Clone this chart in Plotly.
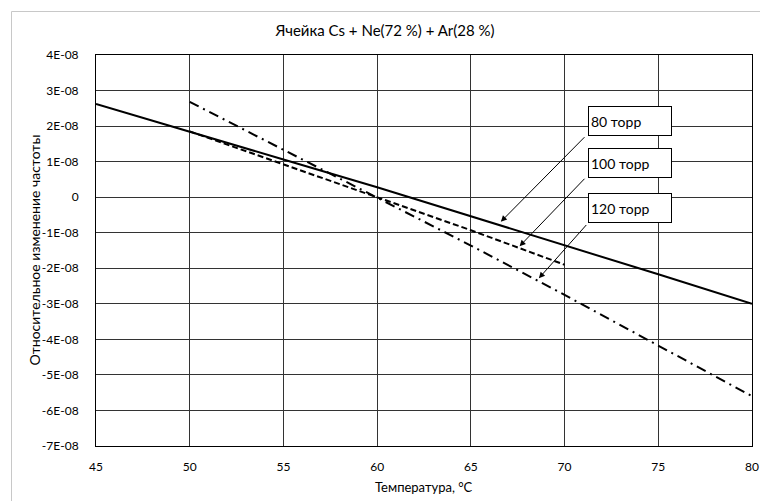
import plotly.graph_objects as go

# Data
temp_80 = [45, 50, 55, 60, 65, 70, 75, 80]
freq_80 = [2.62e-8, 1.85e-8, 1.06e-8, 0.28e-8, -0.53e-8, -1.35e-8, -2.17e-8, -3.0e-8]

temp_100 = [50, 55, 60, 65, 70]
freq_100 = [1.85e-8, 0.93e-8, 0.0, -0.93e-8, -1.9e-8]

temp_120 = [50, 55, 60, 65, 70, 75, 80]
freq_120 = [2.68e-8, 1.34e-8, 0.0, -1.36e-8, -2.75e-8, -4.17e-8, -5.6e-8]

y_ticks = [4e-8, 3e-8, 2e-8, 1e-8, 0, -1e-8, -2e-8, -3e-8, -4e-8, -5e-8, -6e-8, -7e-8]
y_tick_labels = ["4E-08", "3E-08", "2E-08", "1E-08", "0", "-1E-08", "-2E-08", "-3E-08",
                 "-4E-08", "-5E-08", "-6E-08", "-7E-08"]
x_ticks = [45, 50, 55, 60, 65, 70, 75, 80]

labels = ["80 торр", "100 торр", "120 торр"]
label_pos = [(73.5, 2.13e-8), (73.5, 0.96e-8), (73.5, -0.31e-8)]
arrow_tail = [(71.14, 1.73e-8), (71.14, 0.56e-8), (71.23, -0.74e-8)]
arrow_head = [(66.6, -0.69e-8), (67.6, -1.38e-8), (68.63, -2.28e-8)]

FONT = "Lato, 'Open Sans', sans-serif"
L, R, T, B = 96, 8, 55, 55
PW, PH = 760 - L - R, 501 - T - B

fig = go.Figure()
fig.add_trace(go.Scatter(x=temp_80, y=freq_80, mode="lines", name=labels[0],
                         line=dict(color="black", width=2)))
fig.add_trace(go.Scatter(x=temp_100, y=freq_100, mode="lines", name=labels[1],
                         line=dict(color="black", width=2, dash="6px,3px")))
fig.add_trace(go.Scatter(x=temp_120, y=freq_120, mode="lines", name=labels[2],
                         line=dict(color="black", width=2, dash="10px,5px,2px,5px")))

annotations = []
for lab, (lx, ly), (tx, ty), (hx, hy) in zip(labels, label_pos, arrow_tail, arrow_head):
    annotations.append(dict(x=hx, y=hy, ax=tx, ay=ty, xref="x", yref="y", axref="x", ayref="y",
                            text="", showarrow=True, arrowhead=2, arrowsize=1.2, arrowwidth=1,
                            arrowcolor="black"))
    annotations.append(dict(x=lx, y=ly, xref="x", yref="y", text=lab, showarrow=False,
                            bordercolor="black", borderwidth=1, bgcolor="white",
                            width=78, height=24, borderpad=2, align="left",
                            font=dict(family=FONT, size=14, color="black")))

# axis titles as annotations for exact placement
annotations.append(dict(text="Температура, °C", xref="paper", yref="paper",
                        x=(424 - L) / PW, y=-(487 - (T + PH)) / PH, xanchor="center", yanchor="middle",
                        showarrow=False, font=dict(family=FONT, size=13, color="black")))
annotations.append(dict(text="Относительное изменение частоты", xref="paper", yref="paper",
                        x=(34 - L) / PW, y=0.5, xanchor="center", yanchor="middle", textangle=-90,
                        showarrow=False, font=dict(family=FONT, size=14, color="black")))

fig.update_layout(
    width=760, height=501,
    margin=dict(l=L, r=R, t=T, b=B),
    paper_bgcolor="white", plot_bgcolor="white",
    showlegend=False,
    font=dict(family=FONT, size=12, color="black"),
    title=dict(text="Ячейка Cs + Ne(72 %) + Ar(28 %)", x=385 / 760, xanchor="center",
               y=1 - 31 / 501, yanchor="middle", font=dict(family=FONT, size=15, color="black")),
    xaxis=dict(range=[45, 80], tickvals=x_ticks, showgrid=True, gridcolor="#333333", gridwidth=1,
               zeroline=False, showline=True, linecolor="black", linewidth=1, mirror=True,
               ticks="", ticklabelstandoff=10, automargin=False),
    yaxis=dict(range=[-7e-8, 4e-8], tickvals=y_ticks, ticktext=y_tick_labels, showgrid=True,
               gridcolor="#333333", gridwidth=1, zeroline=False, showline=True, linecolor="black",
               linewidth=1, mirror=True, ticks="", ticklabelstandoff=14, automargin=False),
    annotations=annotations,
    shapes=[dict(type="line", xref="paper", yref="paper",
                 x0=(11.5 - L) / PW, x1=(11.5 - L) / PW, y0=-0.2, y1=1 + (T - 11.5) / PH,
                 line=dict(color="#c8c8c8", width=1), layer="above"),
            dict(type="line", xref="paper", yref="paper",
                 x0=(11.5 - L) / PW, x1=1.1, y0=1 + (T - 11.5) / PH, y1=1 + (T - 11.5) / PH,
                 line=dict(color="#c8c8c8", width=1), layer="above")],
)

fig.write_html("out.html", config={"displayModeBar": False},
               post_script="document.body.style.margin='0';document.body.style.overflow='hidden';")
